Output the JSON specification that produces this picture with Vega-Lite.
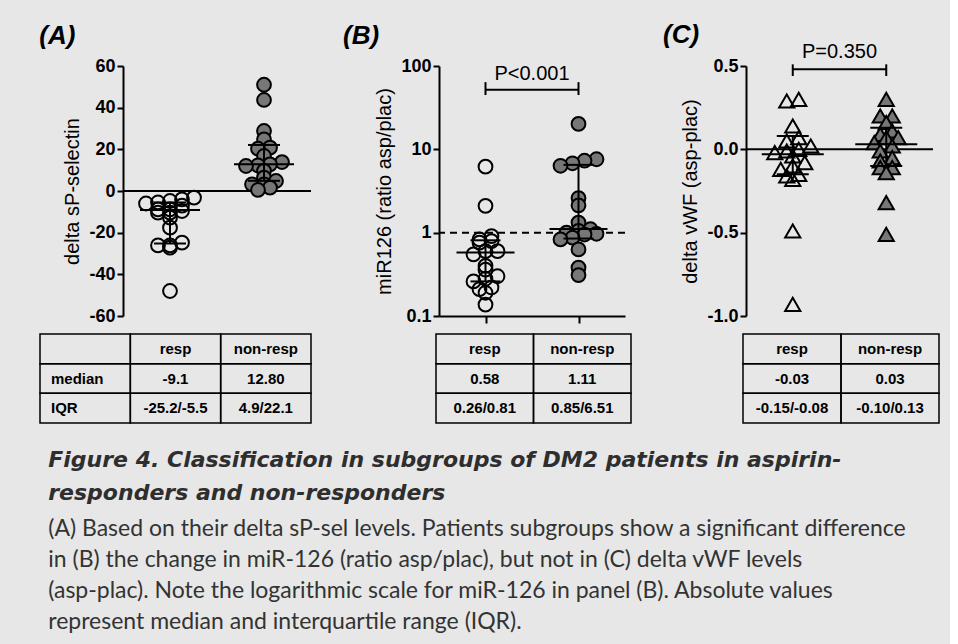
{
  "$schema": "https://vega.github.io/schema/vega-lite/v6.json",
  "background": "#e7e7e7",
  "padding": {"left": 39, "top": 22, "right": 10, "bottom": 10},
  "spacing": 30,
  "title": {
    "text": ["Figure 4. Classification in subgroups of DM2 patients in aspirin-", "responders and non-responders"],
    "subtitle": ["(A) Based on their delta sP-sel levels. Patients subgroups show a significant difference", "in (B) the change in miR-126 (ratio asp/plac), but not in (C) delta vWF levels", "(asp-plac). Note the logarithmic scale for miR-126 in panel (B). Absolute values", "represent median and interquartile range (IQR)."],
    "orient": "bottom", "anchor": "start", "frame": "bounds",
    "font": "DejaVu Sans", "fontSize": 22, "fontWeight": "bold", "fontStyle": "italic", "color": "#2e2e2e", "lineHeight": 33,
    "subtitleFont": "Lato", "subtitleFontSize": 23, "subtitleColor": "#333333", "subtitleLineHeight": 31, "subtitlePadding": 13,
    "offset": 26, "dx": 9
  },
  "datasets": {
    "pts": [
      {"panel": "A", "group": "resp", "value": -3.2}, {"panel": "A", "group": "resp", "value": -4}, {"panel": "A", "group": "resp", "value": -4.8},
      {"panel": "A", "group": "resp", "value": -5.5}, {"panel": "A", "group": "resp", "value": -6}, {"panel": "A", "group": "resp", "value": -7},
      {"panel": "A", "group": "resp", "value": -8.8}, {"panel": "A", "group": "resp", "value": -8.8}, {"panel": "A", "group": "resp", "value": -9.6},
      {"panel": "A", "group": "resp", "value": -10.4}, {"panel": "A", "group": "resp", "value": -10.4}, {"panel": "A", "group": "resp", "value": -12.8},
      {"panel": "A", "group": "resp", "value": -17.6}, {"panel": "A", "group": "resp", "value": -24.8}, {"panel": "A", "group": "resp", "value": -26.1},
      {"panel": "A", "group": "resp", "value": -26.1}, {"panel": "A", "group": "resp", "value": -27.2}, {"panel": "A", "group": "resp", "value": -48},
      {"panel": "A", "group": "non-resp", "value": 51}, {"panel": "A", "group": "non-resp", "value": 43.7}, {"panel": "A", "group": "non-resp", "value": 28.8},
      {"panel": "A", "group": "non-resp", "value": 24.8}, {"panel": "A", "group": "non-resp", "value": 20.8}, {"panel": "A", "group": "non-resp", "value": 20.3},
      {"panel": "A", "group": "non-resp", "value": 16.8}, {"panel": "A", "group": "non-resp", "value": 13.9}, {"panel": "A", "group": "non-resp", "value": 12.8},
      {"panel": "A", "group": "non-resp", "value": 12.3}, {"panel": "A", "group": "non-resp", "value": 12}, {"panel": "A", "group": "non-resp", "value": 9.7},
      {"panel": "A", "group": "non-resp", "value": 6.4}, {"panel": "A", "group": "non-resp", "value": 4.8}, {"panel": "A", "group": "non-resp", "value": 3.2},
      {"panel": "A", "group": "non-resp", "value": 3.2}, {"panel": "A", "group": "non-resp", "value": 1.6}, {"panel": "A", "group": "non-resp", "value": 0.5},
      {"panel": "B", "group": "resp", "value": 6.2}, {"panel": "B", "group": "resp", "value": 2.1}, {"panel": "B", "group": "resp", "value": 0.91},
      {"panel": "B", "group": "resp", "value": 0.83}, {"panel": "B", "group": "resp", "value": 0.79}, {"panel": "B", "group": "resp", "value": 0.76},
      {"panel": "B", "group": "resp", "value": 0.6}, {"panel": "B", "group": "resp", "value": 0.6}, {"panel": "B", "group": "resp", "value": 0.55},
      {"panel": "B", "group": "resp", "value": 0.4}, {"panel": "B", "group": "resp", "value": 0.36}, {"panel": "B", "group": "resp", "value": 0.3},
      {"panel": "B", "group": "resp", "value": 0.28}, {"panel": "B", "group": "resp", "value": 0.26}, {"panel": "B", "group": "resp", "value": 0.22},
      {"panel": "B", "group": "resp", "value": 0.21}, {"panel": "B", "group": "resp", "value": 0.19}, {"panel": "B", "group": "resp", "value": 0.137},
      {"panel": "B", "group": "non-resp", "value": 20.2}, {"panel": "B", "group": "non-resp", "value": 7.6}, {"panel": "B", "group": "non-resp", "value": 7.3},
      {"panel": "B", "group": "non-resp", "value": 6.8}, {"panel": "B", "group": "non-resp", "value": 6.35}, {"panel": "B", "group": "non-resp", "value": 2.6},
      {"panel": "B", "group": "non-resp", "value": 2.13}, {"panel": "B", "group": "non-resp", "value": 1.32}, {"panel": "B", "group": "non-resp", "value": 1.1},
      {"panel": "B", "group": "non-resp", "value": 1.05}, {"panel": "B", "group": "non-resp", "value": 1.0}, {"panel": "B", "group": "non-resp", "value": 0.97},
      {"panel": "B", "group": "non-resp", "value": 0.95}, {"panel": "B", "group": "non-resp", "value": 0.87}, {"panel": "B", "group": "non-resp", "value": 0.83},
      {"panel": "B", "group": "non-resp", "value": 0.63}, {"panel": "B", "group": "non-resp", "value": 0.38}, {"panel": "B", "group": "non-resp", "value": 0.31},
      {"panel": "C", "group": "resp", "value": 0.30}, {"panel": "C", "group": "resp", "value": 0.29}, {"panel": "C", "group": "resp", "value": 0.14},
      {"panel": "C", "group": "resp", "value": 0.07}, {"panel": "C", "group": "resp", "value": 0.05}, {"panel": "C", "group": "resp", "value": 0.02},
      {"panel": "C", "group": "resp", "value": 0.0}, {"panel": "C", "group": "resp", "value": -0.01}, {"panel": "C", "group": "resp", "value": -0.02},
      {"panel": "C", "group": "resp", "value": -0.04}, {"panel": "C", "group": "resp", "value": -0.08}, {"panel": "C", "group": "resp", "value": -0.1},
      {"panel": "C", "group": "resp", "value": -0.12}, {"panel": "C", "group": "resp", "value": -0.15}, {"panel": "C", "group": "resp", "value": -0.16},
      {"panel": "C", "group": "resp", "value": -0.18}, {"panel": "C", "group": "resp", "value": -0.49}, {"panel": "C", "group": "resp", "value": -0.93},
      {"panel": "C", "group": "non-resp", "value": 0.30}, {"panel": "C", "group": "non-resp", "value": 0.20}, {"panel": "C", "group": "non-resp", "value": 0.20},
      {"panel": "C", "group": "non-resp", "value": 0.16}, {"panel": "C", "group": "non-resp", "value": 0.11}, {"panel": "C", "group": "non-resp", "value": 0.09},
      {"panel": "C", "group": "non-resp", "value": 0.07}, {"panel": "C", "group": "non-resp", "value": 0.07}, {"panel": "C", "group": "non-resp", "value": 0.04},
      {"panel": "C", "group": "non-resp", "value": 0.02}, {"panel": "C", "group": "non-resp", "value": -0.01}, {"panel": "C", "group": "non-resp", "value": -0.05},
      {"panel": "C", "group": "non-resp", "value": -0.07}, {"panel": "C", "group": "non-resp", "value": -0.11}, {"panel": "C", "group": "non-resp", "value": -0.11},
      {"panel": "C", "group": "non-resp", "value": -0.14}, {"panel": "C", "group": "non-resp", "value": -0.32}, {"panel": "C", "group": "non-resp", "value": -0.51}
    ],
    "stats": [
      {"panel": "A", "group": "resp", "median": -9.1, "q1": -25.2, "q3": -5.5},
      {"panel": "A", "group": "non-resp", "median": 12.8, "q1": 4.9, "q3": 22.1},
      {"panel": "B", "group": "resp", "median": 0.58, "q1": 0.26, "q3": 0.81},
      {"panel": "B", "group": "non-resp", "median": 1.11, "q1": 0.85, "q3": 6.51},
      {"panel": "C", "group": "resp", "median": -0.03, "q1": -0.15, "q3": 0.08},
      {"panel": "C", "group": "non-resp", "median": 0.03, "q1": -0.10, "q3": 0.13}
    ],
    "cells": [
      {"panel": "A", "col": "stub", "row": "head", "label": ""},
      {"panel": "A", "col": "resp", "row": "head", "label": "resp"},
      {"panel": "A", "col": "non-resp", "row": "head", "label": "non-resp"},
      {"panel": "A", "col": "stub", "row": "median", "label": "median"},
      {"panel": "A", "col": "resp", "row": "median", "label": "-9.1"},
      {"panel": "A", "col": "non-resp", "row": "median", "label": "12.80"},
      {"panel": "A", "col": "stub", "row": "IQR", "label": "IQR"},
      {"panel": "A", "col": "resp", "row": "IQR", "label": "-25.2/-5.5"},
      {"panel": "A", "col": "non-resp", "row": "IQR", "label": "4.9/22.1"},
      {"panel": "B", "col": "resp", "row": "head", "label": "resp"},
      {"panel": "B", "col": "non-resp", "row": "head", "label": "non-resp"},
      {"panel": "B", "col": "resp", "row": "median", "label": "0.58"},
      {"panel": "B", "col": "non-resp", "row": "median", "label": "1.11"},
      {"panel": "B", "col": "resp", "row": "IQR", "label": "0.26/0.81"},
      {"panel": "B", "col": "non-resp", "row": "IQR", "label": "0.85/6.51"},
      {"panel": "C", "col": "resp", "row": "head", "label": "resp"},
      {"panel": "C", "col": "non-resp", "row": "head", "label": "non-resp"},
      {"panel": "C", "col": "resp", "row": "median", "label": "-0.03"},
      {"panel": "C", "col": "non-resp", "row": "median", "label": "0.03"},
      {"panel": "C", "col": "resp", "row": "IQR", "label": "-0.15/-0.08"},
      {"panel": "C", "col": "non-resp", "row": "IQR", "label": "-0.10/0.13"}
    ]
  },
  "hconcat": [
    {
      "width": 188, "height": 250,
      "title": {"text": "(A)", "anchor": "start", "frame": "bounds", "offset": 8},
      "layer": [
        {
          "layer": [
            {
              "data": {"name": "stats"}, "transform": [{"filter": "datum.panel === 'A' && datum.group === 'resp'"}],
              "mark": {"type": "rule", "color": "black", "strokeWidth": 2},
              "encoding": {"y": {"datum": 0, "type": "quantitative"}}
            },
            {
              "data": {"name": "pts"},
              "transform": [
                {"filter": "datum.panel === 'A'"},
                {"bin": {"step": 3, "anchor": 0}, "field": "value", "as": "bk"},
                {"joinaggregate": [{"op": "count", "as": "n"}], "groupby": ["group", "bk"]},
                {"window": [{"op": "row_number", "as": "rn"}], "groupby": ["group", "bk"], "sort": [{"field": "value", "order": "ascending"}]},
                {"calculate": "datum.rn - (datum.n + 1) / 2", "as": "slot"}
              ],
              "mark": {"type": "point", "shape": "circle", "size": 190, "strokeWidth": 2, "stroke": "black", "filled": true, "opacity": 1},
              "encoding": {
                "x": {"field": "group", "type": "nominal", "scale": {"type": "point", "domain": ["resp", "non-resp"], "padding": 0.5}, "axis": null},
                "xOffset": {"field": "slot", "type": "quantitative", "scale": {"domain": [-3, 3], "range": [-36, 36]}},
                "y": {"field": "value", "type": "quantitative", "scale": {"domain": [-60, 60], "nice": false, "zero": false}, "axis": {"values": [-60, -40, -20, 0, 20, 40, 60], "title": "delta sP-selectin"}},
                "fill": {"field": "group", "type": "nominal", "scale": {"domain": ["resp", "non-resp"], "range": ["transparent", "#777777"]}, "legend": null}
              }
            },
            {
              "data": {"name": "stats"}, "transform": [{"filter": "datum.panel === 'A'"}],
              "encoding": {"x": {"field": "group", "type": "nominal", "axis": null}},
              "layer": [
                {"mark": {"type": "rule", "color": "black", "strokeWidth": 2}, "encoding": {"y": {"field": "q1", "type": "quantitative"}, "y2": {"field": "q3"}}},
                {"mark": {"type": "tick", "color": "black", "thickness": 2, "size": 60, "opacity": 1}, "encoding": {"y": {"field": "median", "type": "quantitative"}}},
                {"mark": {"type": "tick", "color": "black", "thickness": 2, "size": 32, "opacity": 1}, "encoding": {"y": {"field": "q1", "type": "quantitative"}}},
                {"mark": {"type": "tick", "color": "black", "thickness": 2, "size": 32, "opacity": 1}, "encoding": {"y": {"field": "q3", "type": "quantitative"}}}
              ]
            }
          ]
        },
        {
          "data": {"name": "cells"}, "transform": [{"filter": "datum.panel === 'A'"}],
          "layer": [
            {
              "mark": {"type": "rect", "fill": "transparent", "stroke": "black", "strokeWidth": 1.5},
              "encoding": {
                "x": {"field": "col", "type": "nominal", "bandPosition": 0, "scale": {"type": "band", "domain": ["stub", "resp", "non-resp"], "range": [-83, 188], "paddingInner": 0, "paddingOuter": 0}, "axis": null},
                "x2": {"field": "col", "bandPosition": 1},
                "y": {"field": "row", "type": "nominal", "bandPosition": 0, "scale": {"type": "band", "domain": ["head", "median", "IQR"], "range": [268, 357], "paddingInner": 0, "paddingOuter": 0}, "axis": null},
                "y2": {"field": "row", "bandPosition": 1}
              }
            },
            {
              "transform": [{"filter": "datum.col !== 'stub'"}],
              "mark": {"type": "text", "font": "Liberation Sans", "fontSize": 15, "fontWeight": "bold", "color": "black"},
              "encoding": {
                "x": {"field": "col", "type": "nominal", "axis": null},
                "y": {"field": "row", "type": "nominal", "axis": null},
                "text": {"field": "label"}
              }
            },
            {
              "transform": [{"filter": "datum.col === 'stub'"}],
              "mark": {"type": "text", "font": "Liberation Sans", "fontSize": 15, "fontWeight": "bold", "color": "black", "align": "left", "dx": 11},
              "encoding": {
                "x": {"field": "col", "type": "nominal", "bandPosition": 0, "axis": null},
                "y": {"field": "row", "type": "nominal", "axis": null},
                "text": {"field": "label"}
              }
            }
          ]
        }
      ],
      "resolve": {"scale": {"x": "independent", "y": "independent"}}
    },
    {
      "width": 186, "height": 250,
      "title": {"text": "(B)", "anchor": "start", "frame": "bounds", "offset": 8, "dx": -32},
      "layer": [
        {
          "layer": [
            {
              "data": {"name": "stats"}, "transform": [{"filter": "datum.panel === 'B' && datum.group === 'resp'"}],
              "mark": {"type": "rule", "color": "black", "strokeWidth": 2, "strokeDash": [7, 5]},
              "encoding": {"y": {"datum": 1, "type": "quantitative"}}
            },
            {
              "data": {"name": "pts"},
              "transform": [
                {"filter": "datum.panel === 'B'"},
                {"calculate": "log(datum.value) / LN10", "as": "lv"},
                {"bin": {"step": 0.1, "anchor": 0}, "field": "lv", "as": "bk"},
                {"joinaggregate": [{"op": "count", "as": "n"}], "groupby": ["group", "bk"]},
                {"window": [{"op": "row_number", "as": "rn"}], "groupby": ["group", "bk"], "sort": [{"field": "value", "order": "ascending"}]},
                {"calculate": "datum.rn - (datum.n + 1) / 2", "as": "slot"}
              ],
              "mark": {"type": "point", "shape": "circle", "size": 190, "strokeWidth": 2, "stroke": "black", "filled": true, "opacity": 1},
              "encoding": {
                "x": {"field": "group", "type": "nominal", "scale": {"type": "point", "domain": ["resp", "non-resp"], "padding": 0.5}, "axis": {"labels": false, "title": null, "tickSize": 7}},
                "xOffset": {"field": "slot", "type": "quantitative", "scale": {"domain": [-3, 3], "range": [-36, 36]}},
                "y": {"field": "value", "type": "quantitative", "scale": {"type": "log", "domain": [0.1, 100], "nice": false}, "axis": {"values": [0.1, 1, 10, 100], "format": "~g", "title": "miR126 (ratio asp/plac)"}},
                "fill": {"field": "group", "type": "nominal", "scale": {"domain": ["resp", "non-resp"], "range": ["transparent", "#777777"]}, "legend": null}
              }
            },
            {
              "data": {"name": "stats"}, "transform": [{"filter": "datum.panel === 'B'"}],
              "encoding": {"x": {"field": "group", "type": "nominal"}},
              "layer": [
                {"mark": {"type": "rule", "color": "black", "strokeWidth": 2}, "encoding": {"y": {"field": "q1", "type": "quantitative"}, "y2": {"field": "q3"}}},
                {"mark": {"type": "tick", "color": "black", "thickness": 2, "size": 58, "opacity": 1}, "encoding": {"y": {"field": "median", "type": "quantitative"}}},
                {"mark": {"type": "tick", "color": "black", "thickness": 2, "size": 30, "opacity": 1}, "encoding": {"y": {"field": "q1", "type": "quantitative"}}},
                {"mark": {"type": "tick", "color": "black", "thickness": 2, "size": 30, "opacity": 1}, "encoding": {"y": {"field": "q3", "type": "quantitative"}}},
                {"mark": {"type": "rule", "color": "black", "strokeWidth": 2}, "encoding": {"y": {"datum": 64, "type": "quantitative"}, "y2": {"datum": 44.8}}}
              ]
            },
            {
              "data": {"name": "stats"}, "transform": [{"filter": "datum.panel === 'B' && datum.group === 'resp'"}],
              "layer": [
                {"mark": {"type": "rule", "color": "black", "strokeWidth": 2}, "encoding": {"x": {"datum": "resp", "type": "nominal"}, "x2": {"datum": "non-resp"}, "y": {"datum": 52, "type": "quantitative"}}},
                {"mark": {"type": "text", "text": "P<0.001", "font": "Liberation Sans", "fontSize": 20, "color": "black", "baseline": "alphabetic"}, "encoding": {"y": {"datum": 68, "type": "quantitative"}}}
              ]
            }
          ]
        },
        {
          "data": {"name": "cells"}, "transform": [{"filter": "datum.panel === 'B'"}],
          "layer": [
            {
              "mark": {"type": "rect", "fill": "transparent", "stroke": "black", "strokeWidth": 1.5},
              "encoding": {
                "x": {"field": "col", "type": "nominal", "bandPosition": 0, "scale": {"type": "band", "domain": ["resp", "non-resp"], "range": [-3, 192], "paddingInner": 0, "paddingOuter": 0}, "axis": null},
                "x2": {"field": "col", "bandPosition": 1},
                "y": {"field": "row", "type": "nominal", "bandPosition": 0, "scale": {"type": "band", "domain": ["head", "median", "IQR"], "range": [268, 357], "paddingInner": 0, "paddingOuter": 0}, "axis": null},
                "y2": {"field": "row", "bandPosition": 1}
              }
            },
            {
              "mark": {"type": "text", "font": "Liberation Sans", "fontSize": 15, "fontWeight": "bold", "color": "black"},
              "encoding": {
                "x": {"field": "col", "type": "nominal", "axis": null},
                "y": {"field": "row", "type": "nominal", "axis": null},
                "text": {"field": "label"}
              }
            }
          ]
        }
      ],
      "resolve": {"scale": {"x": "independent", "y": "independent"}}
    },
    {
      "width": 187, "height": 250,
      "title": {"text": "(C)", "anchor": "start", "frame": "bounds", "offset": -6, "dx": -18},
      "layer": [
        {
          "layer": [
            {
              "data": {"name": "stats"}, "transform": [{"filter": "datum.panel === 'C' && datum.group === 'resp'"}],
              "mark": {"type": "rule", "color": "black", "strokeWidth": 2},
              "encoding": {"y": {"datum": 0, "type": "quantitative"}}
            },
            {
              "data": {"name": "pts"},
              "transform": [
                {"filter": "datum.panel === 'C'"},
                {"bin": {"step": 0.05, "anchor": 0.025}, "field": "value", "as": "bk"},
                {"joinaggregate": [{"op": "count", "as": "n"}], "groupby": ["group", "bk"]},
                {"window": [{"op": "row_number", "as": "rn"}], "groupby": ["group", "bk"], "sort": [{"field": "value", "order": "ascending"}]},
                {"calculate": "datum.rn - (datum.n + 1) / 2", "as": "slot"}
              ],
              "mark": {"type": "point", "shape": "triangle-up", "size": 230, "strokeWidth": 2, "stroke": "black", "filled": true, "opacity": 1},
              "encoding": {
                "x": {"field": "group", "type": "nominal", "scale": {"type": "point", "domain": ["resp", "non-resp"], "padding": 0.5}, "axis": null},
                "xOffset": {"field": "slot", "type": "quantitative", "scale": {"domain": [-3, 3], "range": [-42, 42]}},
                "y": {"field": "value", "type": "quantitative", "scale": {"domain": [-1, 0.5], "nice": false, "zero": false}, "axis": {"values": [-1, -0.5, 0, 0.5], "format": ".1f", "title": "delta vWF (asp-plac)"}},
                "fill": {"field": "group", "type": "nominal", "scale": {"domain": ["resp", "non-resp"], "range": ["transparent", "#777777"]}, "legend": null}
              }
            },
            {
              "data": {"name": "stats"}, "transform": [{"filter": "datum.panel === 'C'"}],
              "encoding": {"x": {"field": "group", "type": "nominal", "axis": null}},
              "layer": [
                {"mark": {"type": "rule", "color": "black", "strokeWidth": 2}, "encoding": {"y": {"field": "q1", "type": "quantitative"}, "y2": {"field": "q3"}}},
                {"mark": {"type": "tick", "color": "black", "thickness": 2, "size": 62, "opacity": 1}, "encoding": {"y": {"field": "median", "type": "quantitative"}}},
                {"mark": {"type": "tick", "color": "black", "thickness": 2, "size": 32, "opacity": 1}, "encoding": {"y": {"field": "q1", "type": "quantitative"}}},
                {"mark": {"type": "tick", "color": "black", "thickness": 2, "size": 32, "opacity": 1}, "encoding": {"y": {"field": "q3", "type": "quantitative"}}},
                {"mark": {"type": "rule", "color": "black", "strokeWidth": 2}, "encoding": {"y": {"datum": 0.51, "type": "quantitative"}, "y2": {"datum": 0.44}}}
              ]
            },
            {
              "data": {"name": "stats"}, "transform": [{"filter": "datum.panel === 'C' && datum.group === 'resp'"}],
              "layer": [
                {"mark": {"type": "rule", "color": "black", "strokeWidth": 2}, "encoding": {"x": {"datum": "resp", "type": "nominal", "axis": null}, "x2": {"datum": "non-resp"}, "y": {"datum": 0.48, "type": "quantitative"}}},
                {"mark": {"type": "text", "text": "P=0.350", "font": "Liberation Sans", "fontSize": 20, "color": "black", "baseline": "alphabetic"}, "encoding": {"y": {"datum": 0.547, "type": "quantitative"}}}
              ]
            }
          ]
        },
        {
          "data": {"name": "cells"}, "transform": [{"filter": "datum.panel === 'C'"}],
          "layer": [
            {
              "mark": {"type": "rect", "fill": "transparent", "stroke": "black", "strokeWidth": 1.5},
              "encoding": {
                "x": {"field": "col", "type": "nominal", "bandPosition": 0, "scale": {"type": "band", "domain": ["resp", "non-resp"], "range": [-3, 193], "paddingInner": 0, "paddingOuter": 0}, "axis": null},
                "x2": {"field": "col", "bandPosition": 1},
                "y": {"field": "row", "type": "nominal", "bandPosition": 0, "scale": {"type": "band", "domain": ["head", "median", "IQR"], "range": [268, 357], "paddingInner": 0, "paddingOuter": 0}, "axis": null},
                "y2": {"field": "row", "bandPosition": 1}
              }
            },
            {
              "mark": {"type": "text", "font": "Liberation Sans", "fontSize": 15, "fontWeight": "bold", "color": "black"},
              "encoding": {
                "x": {"field": "col", "type": "nominal", "axis": null},
                "y": {"field": "row", "type": "nominal", "axis": null},
                "text": {"field": "label"}
              }
            }
          ]
        }
      ],
      "resolve": {"scale": {"x": "independent", "y": "independent"}}
    }
  ],
  "config": {
    "view": {"stroke": null},
    "font": "Liberation Sans",
    "axis": {
      "domainColor": "black", "domainWidth": 2, "tickColor": "black", "tickWidth": 2, "tickSize": 6,
      "labelFont": "Liberation Sans", "labelFontSize": 18, "labelFontWeight": "bold", "labelColor": "black", "labelPadding": 2,
      "titleFont": "Liberation Sans", "titleFontSize": 20, "titleFontWeight": "normal", "titleColor": "black", "titlePadding": 6,
      "grid": false, "labelExpr": "replace(datum.label, '\u2212', '-')"
    },
    "title": {"font": "Liberation Sans", "fontSize": 26, "fontWeight": "bold", "fontStyle": "italic", "color": "black", "anchor": "start"}
  }
}
